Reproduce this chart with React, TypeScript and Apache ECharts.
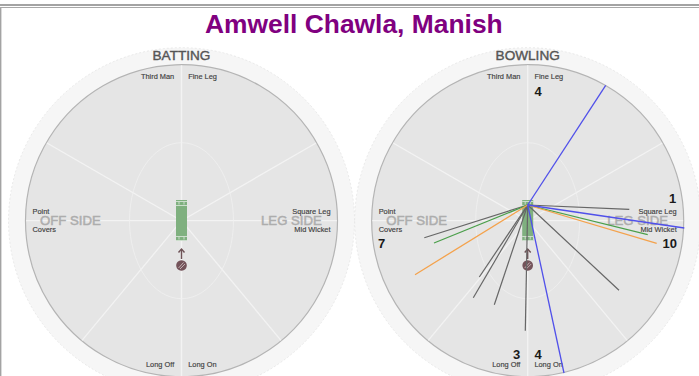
import React, { useEffect, useRef } from "react";
import * as echarts from "echarts";

const chartTitle = "Amwell Chawla, Manish";
const panelTitles = ["BATTING", "BOWLING"];
const sideLabels = ["OFF SIDE", "LEG SIDE"];
const zoneTopLeft = "Third Man";
const zoneTopRight = "Fine Leg";
const zoneMidLeftUpper = "Point";
const zoneMidLeftLower = "Covers";
const zoneMidRightUpper = "Square Leg";
const zoneMidRightLower = "Mid Wicket";
const zoneBottomLeft = "Long Off";
const zoneBottomRight = "Long On";

// Wagon-wheel shots, as [x, y] field offsets from the ground centre
const strikeOrigin = [0, 15.7];
const shotsGray = [[101.6, 11.4], [91.3, -69.6], [-2.4, -110], [-33.4, -84], [-54.4, -77], [-48.4, -56.3], [-103.4, -17]];
const shotsGreen = [[120, -14], [-93.7, -22.3]];
const shotsOrange = [[129, -22.6], [-112.7, -54]];
const shotsBlue = [[78, 135.4], [156.6, -7.3], [36.3, -152.3]];

// Runs per zone: [text, dx, dy]
const bowlingZoneRuns: [string, number, number][] = [
  ["4", 10.5, -129.5],
  ["1", 145, -22],
  ["10", 142, 22.5],
  ["7", -146, 22.5],
  ["3", -11, 134],
  ["4", 10.5, 134],
];

const W = 699;
const H = 376;
const CY = 220.7;
const CENTERS = [181.5, 527.7];
const R_OUT = 173;
const R_IN = 156;

const LABEL = "#404040";
const FONT = "'Liberation Sans', Arial, sans-serif";

function fieldGraphics(cx: number, title: string) {
  const out: any[] = [];
  const white = { stroke: "#f3f3f3", lineWidth: 1.3, fill: "none" };
  out.push({ type: "circle", shape: { cx, cy: CY, r: R_OUT }, style: { fill: "#f6f6f6", stroke: "#dedede", lineWidth: 0.6, lineDash: [2, 2] } });
  out.push({ type: "circle", shape: { cx, cy: CY, r: R_IN }, style: { fill: "#e5e5e5", stroke: "#b4b4b4", lineWidth: 1.2 } });
  const spokes = [[0, -1], [0, 1], [-1, 0], [1, 0], [-0.866, -0.5], [0.866, -0.5], [-0.64, 0.77], [0.64, 0.77]];
  spokes.forEach(([dx, dy]) => {
    out.push({ type: "line", shape: { x1: cx, y1: CY, x2: cx + dx * (R_IN - 0.6), y2: CY + dy * (R_IN - 0.6) }, style: white });
  });
  out.push({ type: "ellipse", shape: { cx, cy: CY, rx: 52, ry: 78 }, style: { stroke: "#f0f0f0", lineWidth: 0.8, fill: "none" } });

  // pitch
  out.push({ type: "rect", shape: { x: cx - 5.5, y: 200, width: 11, height: 41 }, style: { fill: "#7fb07f" } });
  [[202, 204.5], [237, 239.5]].forEach(([a, b]) => {
    out.push({ type: "line", shape: { x1: cx - 5.5, y1: a - 0.5, x2: cx + 5.5, y2: a - 0.5 }, style: { stroke: "#dfeadf", lineWidth: 0.8 } });
    out.push({ type: "line", shape: { x1: cx - 5.5, y1: b + 1, x2: cx + 5.5, y2: b + 1 }, style: { stroke: "#dfeadf", lineWidth: 0.8 } });
    out.push({ type: "line", shape: { x1: cx - 2.5, y1: a, x2: cx - 2.5, y2: b }, style: { stroke: "#dfeadf", lineWidth: 0.8 } });
    out.push({ type: "line", shape: { x1: cx + 2.5, y1: a, x2: cx + 2.5, y2: b }, style: { stroke: "#dfeadf", lineWidth: 0.8 } });
  });

  // direction arrow and ball
  out.push({ type: "line", shape: { x1: cx, y1: 249, x2: cx, y2: 259 }, style: { stroke: "#6e5256", lineWidth: 1.4 } });
  out.push({ type: "polyline", shape: { points: [[cx - 3, 252.5], [cx, 249], [cx + 3, 252.5]] }, style: { stroke: "#6e5256", lineWidth: 1.4, fill: "none" } });
  out.push({ type: "circle", shape: { cx, cy: 265.5, r: 5.3 }, style: { fill: "#74535a" } });
  out.push({ type: "line", shape: { x1: cx - 3, y1: 268, x2: cx + 2, y2: 262.5 }, style: { stroke: "#c9b9bb", lineWidth: 0.9 } });
  out.push({ type: "line", shape: { x1: cx - 1.5, y1: 269, x2: cx + 3.5, y2: 264 }, style: { stroke: "#c9b9bb", lineWidth: 0.9 } });

  const text = (s: string, x: number, y: number, size: number, fill: string, align: string, weight = 0) => ({
    type: "text",
    style: {
      text: s, x, y, fontSize: size, fontFamily: FONT, fill, textAlign: align, textVerticalAlign: "middle",
      stroke: weight ? fill : "none", lineWidth: weight,
    },
  });

  out.push(text(sideLabels[0], cx - 141.5, CY, 13.2, "#adadad", "left", 0.5));
  out.push(text(sideLabels[1], cx + 79.5, CY, 13.2, "#adadad", "left", 0.5));
  out.push(text(title, cx, 55, 13.6, "#555555", "center", 0.4));
  out.push(text(zoneTopLeft, cx - 7.3, 76, 7.4, LABEL, "right", 0.15));
  out.push(text(zoneTopRight, cx + 6.7, 76, 7.4, LABEL, "left", 0.15));
  out.push(text(zoneMidLeftUpper, cx - 149, 211, 7.4, LABEL, "left", 0.15));
  out.push(text(zoneMidLeftLower, cx - 149, 229, 7.4, LABEL, "left", 0.15));
  out.push(text(zoneMidRightUpper, cx + 149, 211, 7.4, LABEL, "right", 0.15));
  out.push(text(zoneMidRightLower, cx + 149, 229, 7.4, LABEL, "right", 0.15));
  out.push(text(zoneBottomLeft, cx - 7.3, 364, 7.4, LABEL, "right", 0.15));
  out.push(text(zoneBottomRight, cx + 6.7, 364, 7.4, LABEL, "left", 0.15));
  return out;
}

function shotSeries(points: number[][], color: string, width: number) {
  return points.map((end) => ({
    type: "line",
    xAxisIndex: 1,
    yAxisIndex: 1,
    data: [strikeOrigin, end],
    showSymbol: false,
    symbol: "none",
    silent: true,
    clip: false,
    lineStyle: { color, width },
    z: 5,
  }));
}

export default function App() {
  const ref = useRef<HTMLDivElement>(null);
  useEffect(() => {
    const chart = echarts.init(ref.current!, undefined, { renderer: "svg" });
    const grids = CENTERS.map((cx) => ({
      left: cx - R_OUT,
      top: CY - R_OUT,
      width: 2 * R_OUT,
      height: 2 * R_OUT,
      outerBoundsMode: "none",
    }));
    const axis = (gridIndex: number) => ({ type: "value", gridIndex, min: -R_OUT, max: R_OUT, show: false });
    const runs = bowlingZoneRuns.map(([s, dx, dy]) => ({
      type: "text",
      z: 20,
      style: { text: s, x: CENTERS[1] + dx, y: CY + dy, fontSize: 13, fontWeight: "bold", fontFamily: FONT, fill: "#1a1a1a", textAlign: "center", textVerticalAlign: "middle" },
    }));
    const chrome = [
      { type: "rect", shape: { x: 0, y: 4, width: W, height: 2 }, style: { fill: "#a3a3a3" } },
      { type: "rect", shape: { x: 0, y: 7, width: W, height: 1 }, style: { fill: "#a8a8a8" } },
      { type: "rect", shape: { x: 0, y: 8, width: 1.4, height: H - 8 }, style: { fill: "#a3a3a3" } },
    ];
    chart.setOption({
      animation: false,
      backgroundColor: "#ffffff",
      title: {
        text: chartTitle,
        left: 200,
        top: 6,
        textStyle: { color: "#800080", fontSize: 26.4, fontWeight: "bold", fontFamily: FONT },
      },
      grid: grids,
      xAxis: [axis(0), axis(1)],
      yAxis: [axis(0), axis(1)],
      graphic: [
        ...chrome,
        ...fieldGraphics(CENTERS[0], panelTitles[0]),
        ...fieldGraphics(CENTERS[1], panelTitles[1]),
        ...runs,
      ],
      series: [
        ...shotSeries(shotsGray, "#666666", 1.2),
        ...shotSeries(shotsGreen, "#4a9f4a", 1.2),
        ...shotSeries(shotsOrange, "#f4a24c", 1.3),
        ...shotSeries(shotsBlue, "#5050ea", 1.3),
      ],
    });
    return () => chart.dispose();
  }, []);
  return <div ref={ref} style={{ position: "absolute", left: 0, top: 0, width: W, height: H }} />;
}
